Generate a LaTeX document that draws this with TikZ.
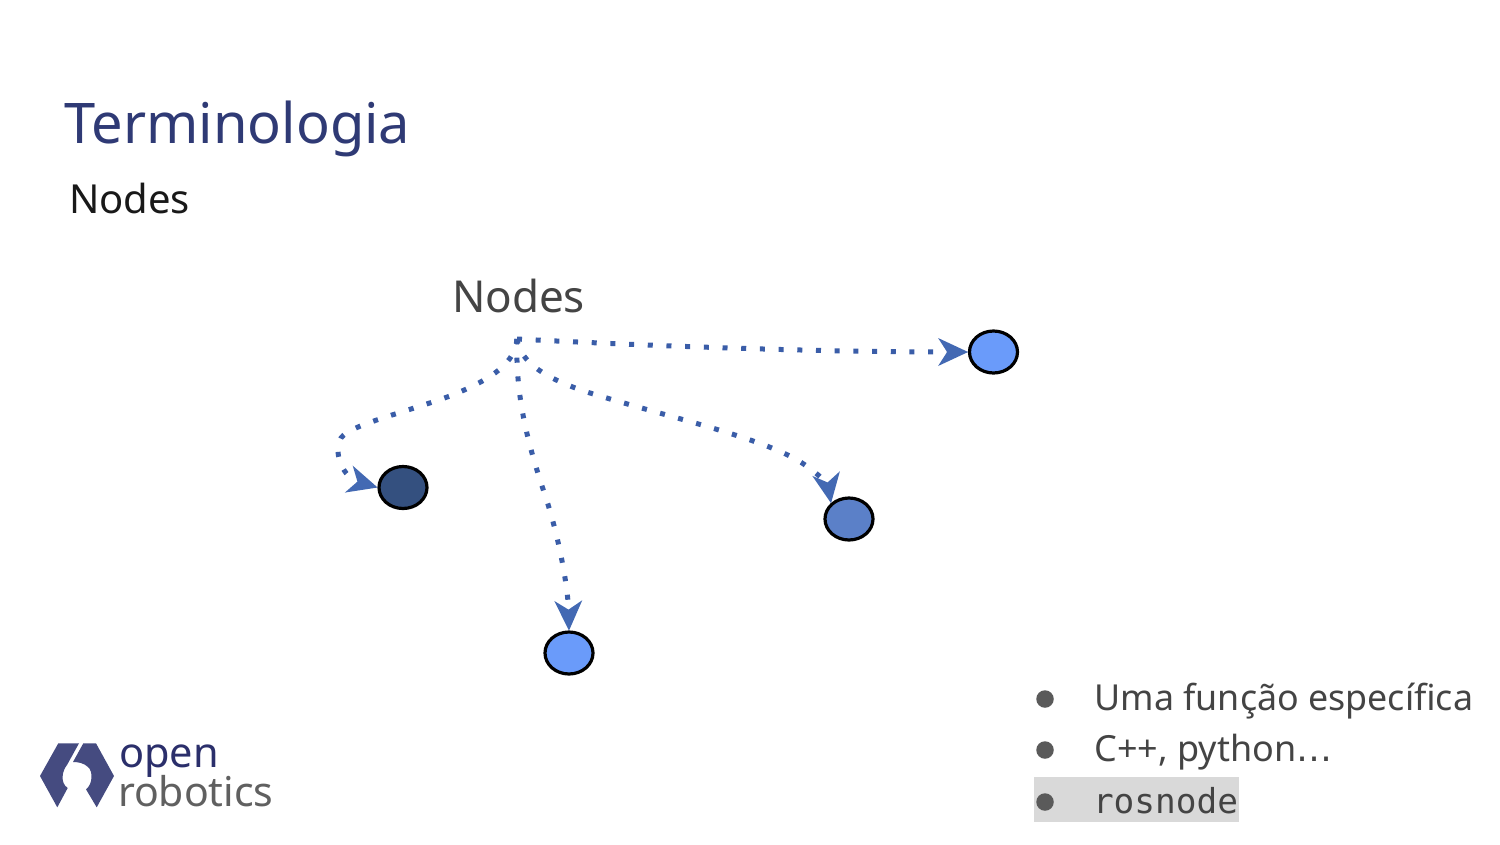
\documentclass[tikz,border=0pt]{standalone}
\usepackage{fontspec}
\setmainfont{Noto Sans}
\newfontfamily\monof{DejaVu Sans Mono}
\newfontfamily\dotsf{DejaVu Sans}
\usetikzlibrary{arrows.meta,shapes.geometric}
\definecolor{titleblue}{HTML}{2F3A75}
\definecolor{textgrey}{HTML}{444444}
\definecolor{linkblue}{HTML}{3A5DA8}
\definecolor{tipblue}{HTML}{4369B3}
\definecolor{logoblue}{HTML}{454B80}
\definecolor{logotext}{HTML}{2B2F6B}
\definecolor{bulletgrey}{HTML}{5A5A5A}
\definecolor{hl}{HTML}{D9D9D9}
\definecolor{ndark}{HTML}{34507F}
\definecolor{nmid}{HTML}{5B80C8}
\definecolor{nlight}{HTML}{6A9BFA}
\tikzset{
  txt/.style={inner sep=0pt,outer sep=0pt,anchor=base west},
  rosnode/.style={ellipse,draw=black,line width=3.2pt,minimum width=48pt,minimum height=42pt,inner sep=0pt,outer sep=1.4pt},
  link/.style={draw=linkblue,line width=5pt,dash pattern=on 5pt off 13.7pt,
    -{Stealth[length=30pt,width=28pt,inset=9pt,color=tipblue,line width=0pt]}},
  bul/.style={circle,fill=bulletgrey,minimum size=17.5pt,inner sep=0pt},
  itemtxt/.style={txt,font=\fontsize{36}{36}\selectfont,text=textgrey},
  logopart/.style={fill=logoblue,draw=none}
}
\begin{document}
\begin{tikzpicture}[x=1pt,y=-1pt]
\useasboundingbox (0,0) rectangle (1500,844);
\fill[white] (0,0) rectangle (1500,844);
\node[txt,font=\fontsize{56}{56}\selectfont,text=titleblue] (title) at (64.5,143) {Terminologia};
\node[txt,font=\fontsize{40}{40}\selectfont,text=black!90] (sub) at (69,213.5) {Nodes};
\node[txt,font=\fontsize{44}{44}\selectfont,text=textgrey] (lbl) at (452,312) {Nodes};
\coordinate (src) at (517,339);
\node[rosnode,fill=nlight] (n1) at (993.5,352) {};
\node[rosnode,fill=ndark] (n2) at (403,487.5) {};
\node[rosnode,fill=nmid] (n3) at (849,519) {};
\node[rosnode,fill=nlight] (n4) at (569,653) {};
\draw[link] (src) .. controls (650,346) and (820,352) .. (n1.west);
\draw[link] (src) .. controls (515,362) and (495,378) .. (450,396) .. controls (400,414) and (350,425) .. (341,438) .. controls (332,455) and (345,478) .. (n2.west);
\draw[link] (src) .. controls (515,400) and (530,450) .. (545,495) .. controls (560,540) and (568,590) .. (n4.north);
\draw[link] (src) .. controls (520,362) and (545,380) .. (600,396) .. controls (680,420) and (770,440) .. (805,465) .. controls (820,475) and (828,485) .. (n3.north west);
% logo
\fill[logopart] (58.3,743.3) -- (79,743.3) -- (67,765) .. controls (62,771) and (60,783) .. (67.7,788) -- (57.3,807.3) -- (40,776) -- cycle;
\fill[logopart] (83.3,743.3) -- (96,743.3) -- (114,776) -- (96.7,807.3) -- (86,789.3) .. controls (93,784) and (93,771) .. (88,767) .. controls (84,763) and (78,762) .. (73,762) -- cycle;
\node[txt,font=\fontsize{41.5}{41.5}\selectfont,text=logotext] (lopen) at (119,767) {open};
\node[txt,font=\fontsize{41}{41}\selectfont,text=textgrey!85] (lrob) at (118,806) {robotics};
% list
\fill[hl] (1034,777) rectangle (1238.5,822);
\node[bul] (b1) at (1045,699) {};
\node[bul] (b2) at (1045,750) {};
\node[bul] (b3) at (1045,802) {};
\node[itemtxt,font=\fontsize{35.8}{36}\selectfont] (t1) at (1094.5,710) {Uma função específica};
\node[itemtxt] (t2) at (1094.5,761) {C++, python{\dotsf\fontsize{36}{36}\selectfont …}};
\node[itemtxt,font=\monof\fontsize{34.4}{34}\selectfont] (t3) at (1093,813) {rosnode};
\end{tikzpicture}
\end{document}
